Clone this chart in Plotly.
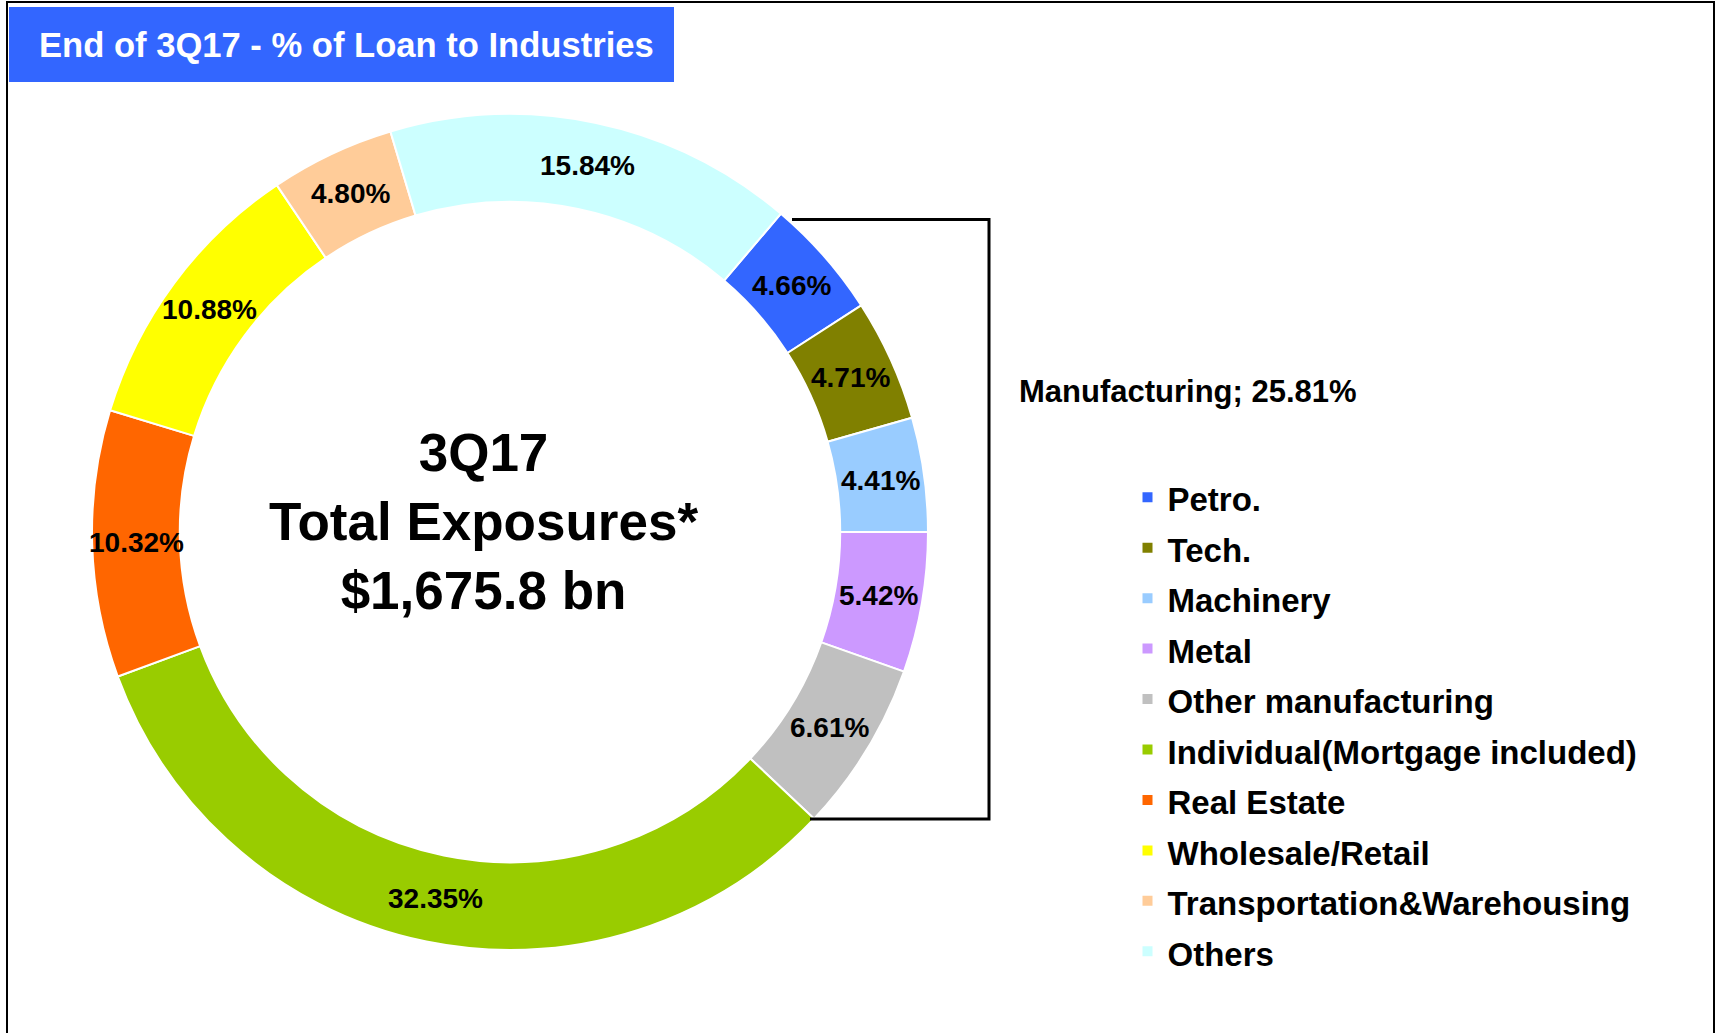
import math
import plotly.graph_objects as go

categories = ["Petro.", "Tech.", "Machinery", "Metal", "Other manufacturing",
              "Individual(Mortgage included)", "Real Estate", "Wholesale/Retail",
              "Transportation&Warehousing", "Others"]
shares = [4.66, 4.71, 4.41, 5.42, 6.61, 32.35, 10.32, 10.88, 4.80, 15.84]
colors = ["#3366FF", "#808000", "#99CCFF", "#CC99FF", "#C0C0C0",
          "#99CC00", "#FF6600", "#FFFF00", "#FFCC99", "#CCFFFF"]
manufacturing = categories[:5]
title_text = "End of 3Q17 - % of Loan to Industries"
center_lines = ["3Q17", "Total Exposures*", "$1,675.8 bn"]

W, H = 1721, 1033
FONT = "Arial, Liberation Sans, sans-serif"

# donut geometry (pixels)
CX, CY, R = 510, 532, 418
HOLE = 0.79
ROTATION = 40.4

manu_total = sum(shares[:len(manufacturing)])


def px(x):
    return x / W


def py(y):
    return 1 - y / H


fig = go.Figure()
fig.add_trace(go.Pie(
    labels=[f'<span style="font-size:33px">{c}</span>' for c in categories],
    values=shares,
    sort=False,
    direction="clockwise",
    rotation=ROTATION,
    hole=HOLE,
    marker=dict(colors=colors, line=dict(color="white", width=2)),
    textinfo="none",
    domain=dict(x=[px(CX - R), px(CX + R)], y=[(H - CY - R) / H, (H - CY + R) / H]),
    hoverinfo="label+value",
))

# slice value labels at the middle of each ring segment
total = sum(shares)
r_mid = R * (1 + HOLE) / 2
label_annotations = []
cum = 0.0
for v in shares:
    theta = math.radians(ROTATION + (cum + v / 2) / total * 360)
    cum += v
    label_annotations.append(dict(
        text=f"{v:.2f}%", x=px(CX + r_mid * math.sin(theta)), y=py(CY - r_mid * math.cos(theta)),
        xref="paper", yref="paper", showarrow=False, xanchor="center", yanchor="middle",
        font=dict(family=FONT, size=28, color="black", weight="bold")))

shapes = [
    # outer frame (left, top, right)
    dict(type="path", xref="paper", yref="paper",
         path=f"M {px(7)} {py(1100)} L {px(7)} {py(2)} L {px(1714)} {py(2)} L {px(1714)} {py(1100)}",
         line=dict(color="black", width=2)),
    # title box
    dict(type="rect", xref="paper", yref="paper",
         x0=px(9), x1=px(674), y0=py(82), y1=py(7),
         fillcolor="#3366FF", line=dict(width=0)),
    # manufacturing bracket
    dict(type="path", xref="paper", yref="paper",
         path=f"M {px(792)} {py(219.5)} L {px(989)} {py(219.5)} L {px(989)} {py(819)} L {px(810)} {py(819)}",
         line=dict(color="black", width=3)),
]

annotations = [
    dict(text=title_text, x=px(346), y=py(45), xref="paper", yref="paper",
         showarrow=False, xanchor="center", yanchor="middle",
         font=dict(family=FONT, size=34.6, color="white", weight="bold")),
    dict(text="<br>".join(center_lines), x=px(483), y=py(521), xref="paper", yref="paper",
         showarrow=False, xanchor="center", yanchor="middle",
         font=dict(family=FONT, size=53, color="black", weight="bold")),
    dict(text=f"Manufacturing; {manu_total:.2f}%", x=px(1017), y=py(391), xref="paper", yref="paper",
         showarrow=False, xanchor="left", yanchor="middle",
         font=dict(family=FONT, size=31, color="black", weight="bold")),
] + label_annotations

fig.update_layout(
    width=W, height=H,
    margin=dict(l=0, r=0, t=0, b=0),
    paper_bgcolor="white", plot_bgcolor="white",
    shapes=shapes, annotations=annotations,
    showlegend=True,
    legend=dict(x=px(1127.5), y=py(467), xanchor="left", yanchor="top",
                font=dict(family=FONT, size=36.5, color="black", weight="bold"),
                bgcolor="rgba(0,0,0,0)", borderwidth=0, traceorder="normal"),
)

fig.write_html("out.html", config={"displayModeBar": False},
               post_script="document.body.style.margin='0';document.body.style.overflow='hidden';")
